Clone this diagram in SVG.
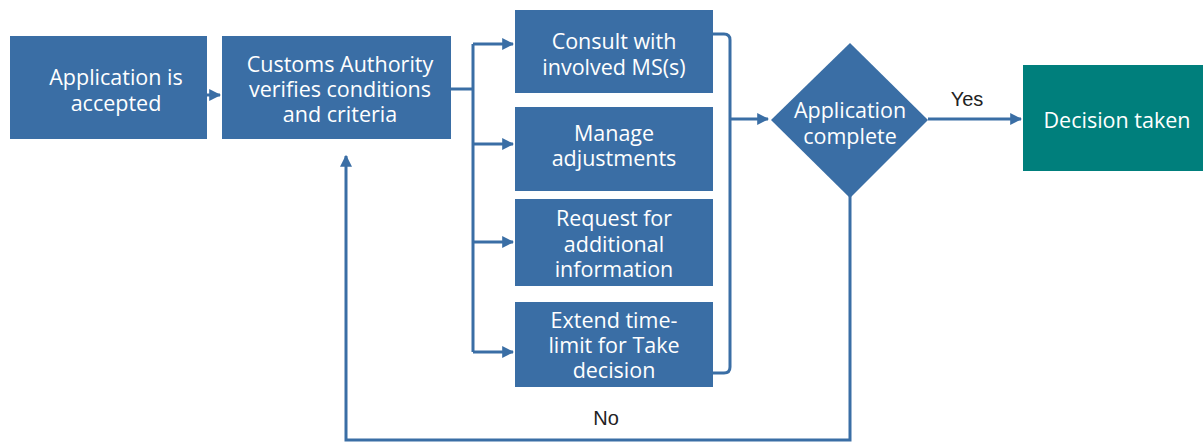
<svg xmlns="http://www.w3.org/2000/svg" width="1203" height="443" viewBox="0 0 1203 443">
<defs>
<style>
.n{fill:#3a6ea5}
.t{fill:#ffffff;font-family:"Open Sans","Noto Sans",sans-serif;font-size:21.5px;text-anchor:middle}
.l{fill:#222;font-family:"Liberation Sans",Arial,sans-serif;font-size:20px;text-anchor:middle}
.c{fill:none;stroke:#3a6ea5;stroke-width:3}
</style>
<marker id="ah" viewBox="0 0 10 10" refX="9" refY="5" markerWidth="4" markerHeight="4" orient="auto" markerUnits="strokeWidth">
<path d="M0,0 L10,5 L0,10 z" fill="#3a6ea5"/>
</marker>
</defs>
<rect width="1203" height="443" fill="#ffffff"/>
<g id="connectors">
<path class="c" d="M190,95 H220" marker-end="url(#ah)"/>
<path class="c" d="M451,89 H473"/>
<path class="c" d="M473,44 V352"/>
<path class="c" d="M473,44 H513" marker-end="url(#ah)"/>
<path class="c" d="M473,144 H513" marker-end="url(#ah)"/>
<path class="c" d="M473,242 H513" marker-end="url(#ah)"/>
<path class="c" d="M473,352 H513" marker-end="url(#ah)"/>
<path class="c" d="M713,34 H724 Q730,34 730,40 V367 Q730,373 724,373 H713"/>
<path class="c" d="M730,119 H768" marker-end="url(#ah)"/>
<path class="c" d="M928,119 H1021" marker-end="url(#ah)"/>
<path class="c" d="M850,196 V440 H346 V156" marker-end="url(#ah)"/>
<text class="l" x="967" y="106">Yes</text>
<text class="l" x="606" y="425">No</text>
</g>
<g id="n1"><rect class="n" x="10" y="36" width="197" height="103"/>
<text class="t"><tspan x="116" y="85">Application is</tspan><tspan x="116" y="111">accepted</tspan></text></g>
<g id="n2"><rect class="n" x="222" y="36" width="229" height="103"/>
<text class="t"><tspan x="340" y="72">Customs Authority</tspan><tspan x="340" y="97">verifies conditions</tspan><tspan x="340" y="122">and criteria</tspan></text></g>
<g id="n3"><rect class="n" x="515" y="10" width="198" height="83"/>
<text class="t"><tspan x="614" y="49">Consult with</tspan><tspan x="614" y="75">involved MS(s)</tspan></text></g>
<g id="n4"><rect class="n" x="515" y="107" width="198" height="84"/>
<text class="t"><tspan x="614" y="141">Manage</tspan><tspan x="614" y="166">adjustments</tspan></text></g>
<g id="n5"><rect class="n" x="515" y="199" width="198" height="87"/>
<text class="t"><tspan x="614" y="226">Request for</tspan><tspan x="614" y="252">additional</tspan><tspan x="614" y="277">information</tspan></text></g>
<g id="n6"><rect class="n" x="515" y="302" width="198" height="85"/>
<text class="t"><tspan x="614" y="328">Extend time-</tspan><tspan x="614" y="353">limit for Take</tspan><tspan x="614" y="378">decision</tspan></text></g>
<g id="n7"><path class="n" d="M850,43 L928,120 L850,198 L771,120 z"/>
<text class="t"><tspan x="850" y="118">Application</tspan><tspan x="850" y="144">complete</tspan></text></g>
<g id="n8"><rect x="1023" y="65" width="180" height="106" fill="#007f7c"/>
<text class="t" x="1117" y="128">Decision taken</text></g>
</svg>
